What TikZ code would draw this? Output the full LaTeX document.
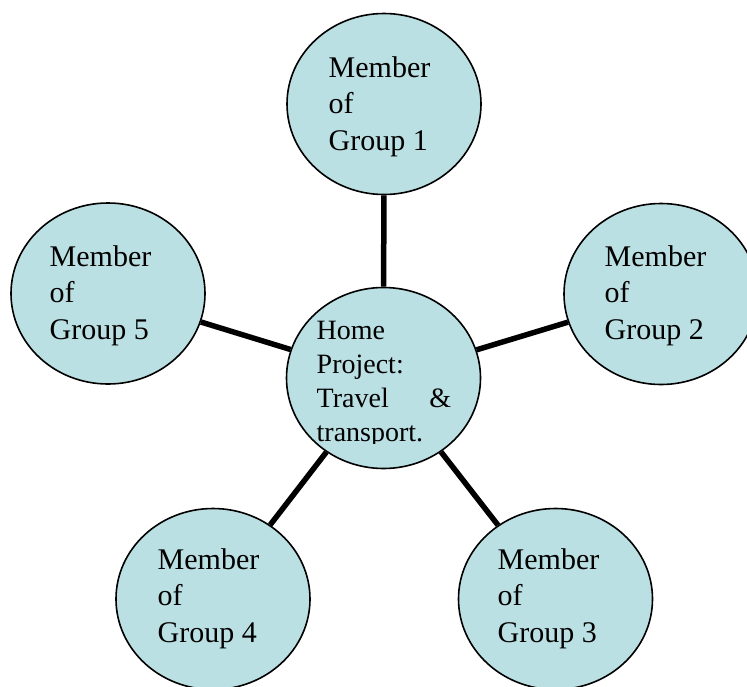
\documentclass[tikz,border=0pt]{standalone}
\usepackage{fontspec}
\setmainfont{Liberation Serif}
\usetikzlibrary{shapes.geometric}
\definecolor{bubble}{HTML}{BBE0E3}
\begin{document}
\begin{tikzpicture}[x=1pt,y=-1pt,
  bub/.style={ellipse,draw=black,line width=1.6pt,fill=bubble,minimum width=194pt,minimum height=181pt,inner sep=0pt},
  link/.style={line width=5.5pt,black},
  outtxt/.style={anchor=base west,inner sep=0pt,font=\fontsize{30}{36.5}\selectfont},
  midtxt/.style={anchor=base west,inner sep=0pt,font=\fontsize{28}{34}\selectfont}]
\useasboundingbox (0,0) rectangle (747,686);
\begin{scope}
\clip (0,0) rectangle (747,686);
\node[bub] (c) at (383.5,378) {};
\node[bub] (g1) at (384,104) {};
\node[bub] (g2) at (661,294) {};
\node[bub] (g3) at (555.5,599) {};
\node[bub] (g4) at (213,599) {};
\node[bub] (g5) at (108,293.5) {};
\draw[link] (c) -- (g1);
\draw[link] (c) -- (g2);
\draw[link] (c) -- (g3);
\draw[link] (c) -- (g4);
\draw[link] (c) -- (g5);
\node[outtxt] (t1) at (328.5,77) {\parbox[t]{150pt}{Member\\of\\Group 1}};
\node[outtxt] (t2) at (604.5,266) {\parbox[t]{150pt}{Member\\of\\Group 2}};
\node[outtxt] (t3) at (497.5,569) {\parbox[t]{150pt}{Member\\of\\Group 3}};
\node[outtxt] (t4) at (157.5,569) {\parbox[t]{150pt}{Member\\of\\Group 4}};
\node[outtxt] (t5) at (49.5,266) {\parbox[t]{150pt}{Member\\of\\Group 5}};
\end{scope}
\begin{scope}
\clip (0,0) rectangle (747,443);
\node[midtxt] (tc) at (316.5,339.5) {\parbox[t]{134.5pt}{Home\\Project:\\Travel\hfill\&\\transport.}};
\end{scope}
\end{tikzpicture}
\end{document}
